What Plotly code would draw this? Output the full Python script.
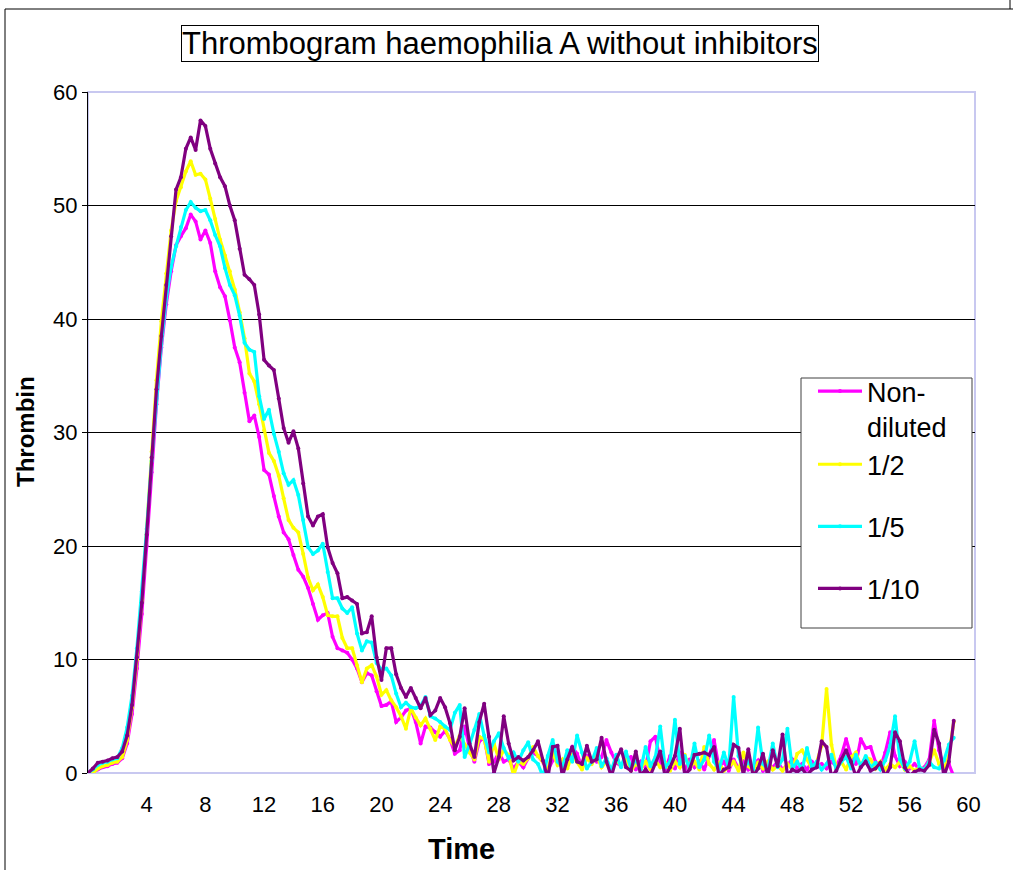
import plotly.graph_objects as go

# time axis: one reading every 20 s (1/3 min), 0 .. 59 min
n_points = 178
time_min = [round(i / 3, 3) for i in range(n_points)]

series_names = ["Non-<br>diluted", "1/2", "1/5", "1/10"]
series_colors = ["#FF00FF", "#FFFF00", "#00FFFF", "#800080"]

non_diluted = [
    0.0, 0.1, 0.3, 0.5, 0.6, 0.8, 0.9, 1.3, 2.6, 5.2,
    9.2, 14.0, 20.0, 26.5, 32.5, 37.5, 41.3, 44.2, 46.5, 47.3,
    48.0, 49.2, 48.6, 47.0, 47.8, 46.7, 44.2, 42.8, 42.0, 39.9,
    37.5, 36.2, 33.5, 31.0, 31.5, 29.6, 26.7, 26.3, 24.4, 22.6,
    21.2, 20.6, 19.2, 17.9, 17.3, 16.3, 14.9, 13.5, 13.9, 14.1,
    12.0, 11.0, 10.8, 10.6, 10.0, 9.2, 8.0, 8.8, 8.6, 7.2,
    5.9, 6.0, 6.3, 4.5, 4.9, 5.5, 5.7, 4.5, 2.6, 4.1,
    4.0, 3.6, 3.2, 3.7, 3.0, 1.7, 2.0, 4.1, 2.2, 1.0,
    2.8, 3.1, 0.8, 1.0, 1.8, 1.0, 1.2, 0.4, 1.0, 0.5,
    1.3, 1.8, 1.5, 1.0, 0.2, 1.1, 1.8, 0.5, 1.5, 2.3,
    1.7, 0.5, 1.5, 1.2, 1.0, 1.4, 2.9, 1.8, 0.9, 0.6,
    1.2, 1.4, 0.3, 1.0, 0.5, 2.8, 3.2, 1.0, 0.3, 1.5,
    0.4, 1.8, 0.2, 1.2, 0.5, 1.0, 0.3, 1.5, 2.9, 0.5,
    1.0, 0.2, 1.2, 0.4, 1.0, 0.3, 0.6, 1.1, 0.2, 0.8,
    0.5, 1.0, 0.3, 0.7, 1.2, 0.4, 0.8, 0.3, 1.0, 0.5,
    0.8, 0.4, 1.0, 0.6, 1.5, 3.0, 1.5, 0.8, 3.0, 2.2,
    2.3, 1.0, 0.5, 1.8, 3.6, 1.5, 0.6, 1.0, 0.4, 0.8,
    0.3, 0.5, 1.2, 4.6, 2.0, 0.4, 0.8, -0.3,
]

dil_1_2 = [
    -0.2, 0.0, 0.4, 0.6, 0.7, 0.9, 1.0, 1.4, 2.9, 5.8,
    10.0, 15.2, 21.5, 28.3, 34.6, 39.8, 44.0, 47.8, 50.4, 51.6,
    53.0, 53.9, 52.7, 52.8, 52.3, 50.6, 48.8, 47.0, 45.6, 44.2,
    42.6, 40.6, 38.3, 35.2, 34.5, 32.5, 30.2, 28.2, 27.5, 26.2,
    24.2, 22.3, 21.6, 21.2, 19.3, 17.2, 16.1, 16.6, 15.5, 13.9,
    13.8, 13.8, 11.9, 11.0, 11.0, 9.5, 8.0, 9.2, 9.5, 8.5,
    6.9, 7.3, 6.4, 5.8, 5.0, 3.9, 5.7, 4.9, 4.2, 4.8,
    3.9, 2.9, 4.1, 3.9, 2.9, 2.3, 3.3, 2.5, 1.8, 1.2,
    3.2, 3.0, 1.0, 2.6, 1.2, 2.0, 1.6, -0.2, 1.0, 0.8,
    1.3, 2.3, 1.5, 1.0, 0.3, 1.8, 0.7, 1.2, 0.4, 1.6,
    1.0, 0.3, 1.3, 0.8, 1.5, 0.5, 1.0, 0.3, 1.2, 0.6,
    1.4, 0.2, 0.8, 0.4, 1.0, 0.3, 1.1, 0.5, 0.9, 0.2,
    1.0, 0.5, 1.6, 0.4, 1.0, 0.3, 2.3, 0.8, 0.3, 0.9,
    0.2, 0.5, 1.0, 0.2, 1.8, 0.6, 0.2, 0.9, 0.4, 1.0,
    0.3, 0.6, 0.2, 0.8, 0.3, 1.7, 2.0, 1.2, 0.4, 1.0,
    2.4, 7.4, 2.5, 0.4, 1.0, 0.3, 1.4, 1.8, 0.6, 1.4,
    1.2, 0.4, 1.0, 0.3, 0.8, 0.5, 1.0, 0.3, 0.6, 0.2,
    0.5, 0.3, 1.0, 2.0, 0.8, 0.3, 1.5, 4.5,
]

dil_1_5 = [
    0.0, 0.3, 0.7, 0.9, 1.0, 1.2, 1.3, 2.2, 4.0, 6.8,
    11.0, 16.0, 21.5, 27.5, 33.0, 37.8, 41.8, 44.6, 46.4, 48.1,
    49.6, 50.3, 49.8, 49.5, 49.6, 48.7, 47.4, 46.4, 44.5, 43.0,
    42.1, 40.3, 37.9, 37.3, 37.1, 33.2, 31.2, 32.0, 29.9, 28.3,
    26.4, 25.4, 25.8, 24.5, 22.3, 19.9, 19.3, 19.6, 20.2, 17.7,
    15.4, 15.4, 14.5, 14.1, 14.6, 12.3, 10.8, 11.6, 11.5, 9.7,
    9.1, 9.2, 8.6, 7.0, 5.8, 6.2, 5.8, 5.7, 5.9, 6.7,
    5.0, 4.8, 4.5, 4.1, 3.8, 5.3, 6.0, 1.4, 2.5, 3.8,
    5.2, 3.3, 1.8, 2.8, 3.5, 2.2, 1.3, 1.8, 1.0, 2.0,
    2.7, 1.2, 0.8, -0.3, 1.5, 2.9, 1.0, 0.5, 2.0, 1.0,
    3.3, 1.8, 0.4, 1.0, 2.2, 0.6, 1.3, 0.2, 1.6, 0.5,
    1.9, 0.4, 1.2, 0.3, 2.3, 0.6, 1.4, 4.1, 0.5, 1.0,
    4.7, 0.8, 1.5, 0.4, 2.6, 0.5, 1.2, 3.3, 1.0, 0.3,
    1.8, 0.5, 6.7, 1.5, 0.4, 1.0, 0.3, 4.0, 0.8, 0.3,
    2.6, 0.5, 1.2, 3.9, 0.4, 1.0, 0.3, 2.2, 0.5, 1.0,
    0.3, 0.8, 1.6, 0.3, 1.0, 1.4, 0.4, 1.6, 0.6, 1.5,
    0.5, 0.9, 0.3, 1.1, 2.4, 5.0, 1.2, 0.4, 1.0, 2.8,
    0.5, 0.3, 1.0, 0.5, 0.4, 1.1, 2.5, 3.1,
]

dil_1_10 = [
    0.0, 0.4, 0.9, 1.0, 1.1, 1.3, 1.4, 1.9, 3.3, 6.0,
    10.2, 15.0, 21.0, 27.8, 33.8, 38.5, 43.0, 47.3, 51.4, 52.5,
    55.0, 56.0, 54.9, 57.5, 57.0, 55.0, 53.7, 52.5, 51.7, 50.0,
    48.7, 46.2, 43.9, 43.5, 43.0, 40.4, 36.4, 35.9, 35.5, 33.0,
    30.4, 29.1, 30.1, 28.6, 25.5, 22.6, 21.8, 22.6, 22.8, 19.9,
    18.5, 17.6, 15.4, 15.5, 15.2, 14.9, 12.3, 12.4, 13.8, 10.2,
    8.2, 11.0, 11.0, 8.7, 7.5, 6.7, 7.5, 6.6, 5.7, 6.6,
    5.1, 5.5, 6.6, 5.8, 4.4, 2.0, 3.2, 5.7, 2.6, 1.4,
    4.5, 6.1, 3.2, 0.0, 1.4, 5.0, 2.6, 1.1, 1.4, 1.1,
    1.4, 2.0, 2.8, 1.1, -0.5, 2.3, 2.4, -0.3, 1.2, 2.3,
    1.0, 0.8, 2.4, 1.0, 1.2, 3.1, 1.0, -0.3, 1.2, 2.1,
    0.5, 0.2, 1.9, -0.2, 0.3, -0.2, 0.8, 1.9, -0.3, 0.5,
    1.5, 3.9, -0.2, 0.3, 1.6, 1.7, 1.8, 1.6, 2.3, -0.2,
    0.3, 0.5, 2.5, 2.2, -0.2, 2.1, -0.3, 0.4, 1.7, -0.3,
    2.0, 0.6, 3.4, -0.2, 0.3, 0.1, 0.4, -0.2, 0.3, 0.5,
    2.8, 2.3, -0.3, 0.2, 1.2, 2.0, 1.0, -0.3, 0.5, 1.0,
    0.2, 0.4, 0.9, -0.3, 0.5, 3.6, 2.8, 0.5, -0.2, 0.1,
    0.3, 0.2, 0.7, 3.8, 2.6, -0.3, 1.0, 4.6,
]

x_ticks = [4, 8, 12, 16, 20, 24, 28, 32, 36, 40, 44, 48, 52, 56, 60]
y_ticks = [0, 10, 20, 30, 40, 50, 60]

title_text = "Thrombogram haemophilia A without inhibitors"
x_title = "Time"
y_title = "Thrombin"

FONT = "Liberation Sans, Arial, sans-serif"

W, H = 1013, 870
L, R, T, B = 88, 975, 92, 773  # plot area in pixels


def px(xp):
    return (xp - L) / (R - L)


def py(yp):
    return (B - yp) / (B - T)


fig = go.Figure()
all_series = [non_diluted, dil_1_2, dil_1_5, dil_1_10]
groups = ["a", "a", "b", "c"]
for name, color, vals, grp in zip(series_names, series_colors, all_series, groups):
    fig.add_trace(go.Scatter(
        x=time_min, y=vals, name=name, mode="lines+markers",
        line=dict(color=color, width=3.2),
        marker=dict(color=color, size=4),
        legendgroup=grp,
    ))

shapes = [
    # legend box
    dict(type="rect", xref="paper", yref="paper", x0=px(801), x1=px(972), y0=py(378), y1=py(628),
         line=dict(color="#404040", width=1), fillcolor="white", layer="above"),
    # plot frame (lavender)
    dict(type="rect", xref="paper", yref="paper", x0=0, x1=1, y0=0, y1=1,
         line=dict(color="#C8C8F0", width=2), layer="between"),
    # outer chart border
    dict(type="line", xref="paper", yref="paper", x0=px(5), x1=px(1013), y0=py(9), y1=py(9),
         line=dict(color="black", width=1)),
    dict(type="line", xref="paper", yref="paper", x0=px(5), x1=px(5), y0=py(9), y1=py(870),
         line=dict(color="black", width=1)),
    dict(type="line", xref="paper", yref="paper", x0=px(1010), x1=px(1010), y0=py(0), y1=py(9),
         line=dict(color="black", width=1)),
]

annotations = [
    dict(text=title_text, xref="paper", yref="paper", x=px(500), y=py(43),
         xanchor="center", yanchor="middle", showarrow=False,
         font=dict(family=FONT, size=31, color="black"),
         bordercolor="black", borderwidth=1, borderpad=0, bgcolor="white"),
    dict(text="<b>" + x_title + "</b>", xref="paper", yref="paper", x=px(461), y=py(849),
         xanchor="center", yanchor="middle", showarrow=False,
         font=dict(family=FONT, size=29, color="black")),
    dict(text="<b>" + y_title + "</b>", xref="paper", yref="paper", x=px(25), y=py(432),
         xanchor="center", yanchor="middle", showarrow=False, textangle=-90,
         font=dict(family=FONT, size=24, color="black")),
]

fig.update_layout(
    width=W, height=H,
    margin=dict(l=L, r=W - R, t=T, b=H - B, pad=0),
    paper_bgcolor="white", plot_bgcolor="white",
    font=dict(family=FONT, color="black"),
    showlegend=True,
    legend=dict(x=px(813), y=py(367), xanchor="left", yanchor="top",
                bgcolor="rgba(0,0,0,0)", borderwidth=0,
                font=dict(family=FONT, size=27, color="black"),
                valign="top", tracegroupgap=24, itemwidth=44),
    shapes=shapes,
    annotations=annotations,
    xaxis=dict(range=[0, 60.45], tickvals=x_ticks, ticktext=[str(v) for v in x_ticks],
               showgrid=False, zeroline=False, showline=False, ticks="",
               ticklabelstandoff=16,
               tickfont=dict(family=FONT, size=22, color="black")),
    yaxis=dict(range=[0, 60], tickvals=y_ticks, showgrid=True, gridcolor="black", gridwidth=1,
               zeroline=False, showline=True, linecolor="black", linewidth=1,
               ticks="outside", ticklen=5, tickcolor="black",
               tickfont=dict(family=FONT, size=22, color="black")),
)

fig.write_html("out.html")
